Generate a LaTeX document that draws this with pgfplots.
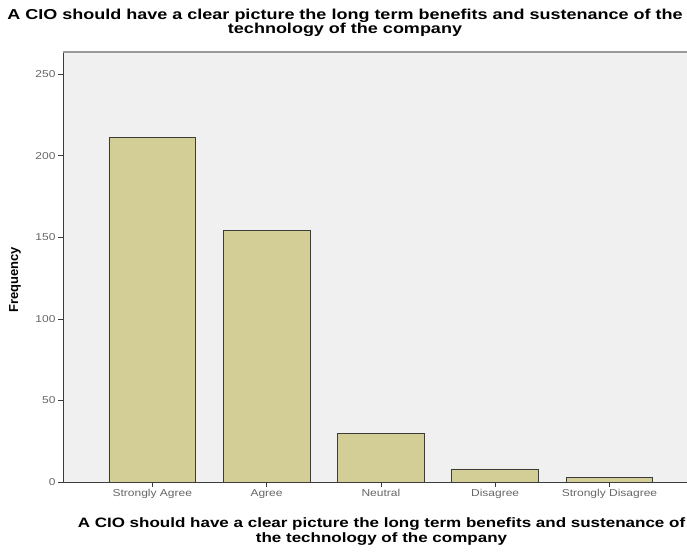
\documentclass[border=0pt]{standalone}
\usepackage{pgfplots}
\pgfplotsset{compat=1.18}
\usepackage{fontspec}
\setmainfont{Liberation Sans}
\newfontfamily\widefont[FakeStretch=1.25]{Liberation Sans}
\newfontfamily\tickfont[FakeStretch=1.2]{Liberation Sans}
\definecolor{bgc}{HTML}{F0F0F0}
\definecolor{barfill}{HTML}{D3CE96}
\definecolor{baredge}{HTML}{3C3C3C}
\definecolor{tickc}{HTML}{666666}
\begin{document}
\begin{tikzpicture}
\begin{axis}[
  at={(0pt,0pt)}, anchor=south west,
  scale only axis, width=635.7pt, height=430pt,
  xmin=-0.781, xmax=4.781, ymin=0, ymax=263.5,
  axis background/.style={fill=bgc},
  axis x line*=bottom, axis y line*=left,
  axis line style={draw=baredge, line width=0.8pt, -},
  tick align=outside,
  major tick length=5pt,
  tick style={draw=baredge, line width=0.6pt},
  xtick={0,1,2,3,4},
  xticklabels={Strongly Agree,Agree,Neutral,Disagree,Strongly Disagree},
  ytick={0,50,100,150,200,250},
  /pgf/number format/assume math mode=true,
  ticklabel style={font=\tickfont\fontsize{10}{11}\selectfont, text=tickc},
  xticklabel style={yshift=1pt},
  yticklabel style={xshift=1pt},
  ybar, bar width=0.7585,
  clip=false,
]
\addplot[fill=barfill, draw=baredge, line width=0.7pt] coordinates {
  (0,211) (1,154) (2,30) (3,8) (4,3)
};
\draw[draw=gray!80, line width=1.2pt] (rel axis cs:0,1) -- (rel axis cs:1,1);
\end{axis}
\node[anchor=base, font=\widefont\bfseries\fontsize{14.4}{16}\selectfont, inner sep=0pt]
  at (282pt,462pt) {A CIO should have a clear picture the long term benefits and sustenance of the};
\node[anchor=base, font=\widefont\bfseries\fontsize{14.4}{16}\selectfont, inner sep=0pt]
  at (282pt,448.5pt) {technology of the company};
\node[anchor=base, font=\widefont\bfseries\fontsize{13.6}{16}\selectfont, inner sep=0pt]
  at (318.5pt,-45pt) {A CIO should have a clear picture the long term benefits and sustenance of};
\node[anchor=base, font=\widefont\bfseries\fontsize{13.6}{16}\selectfont, inner sep=0pt]
  at (318.5pt,-60pt) {the technology of the company};
\node[rotate=90, font=\bfseries\fontsize{13}{15}\selectfont, inner sep=0pt]
  at (-48pt,202pt) {Frequency};
\pgfresetboundingbox
\path (-63pt,-69pt) rectangle (624pt,482pt);
\end{tikzpicture}
\end{document}
